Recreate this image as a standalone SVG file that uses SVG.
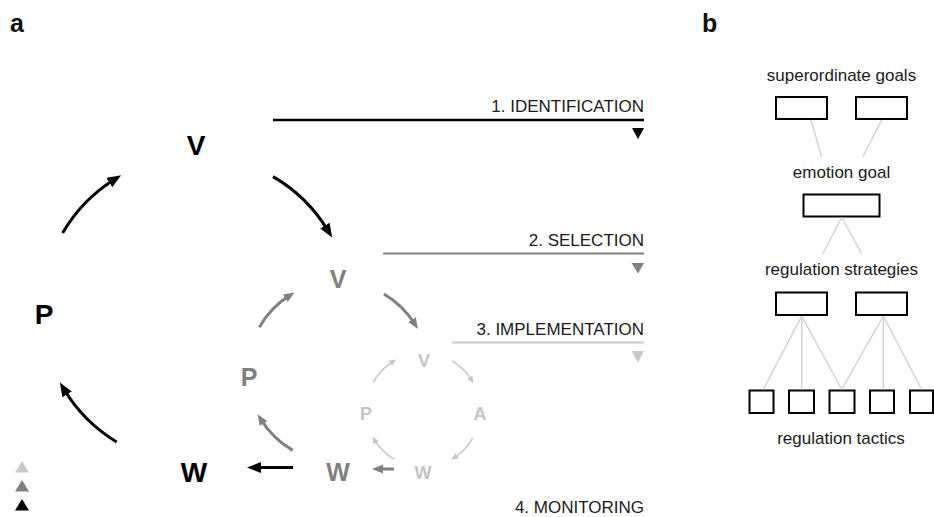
<svg xmlns="http://www.w3.org/2000/svg" width="934" height="517" viewBox="0 0 934 517">
  <style>
    .panel { font-family: "Liberation Sans", Arial, sans-serif; font-weight: bold; font-size: 25px; fill: #111; }
    .node { font-family: "Liberation Sans", Arial, sans-serif; font-weight: bold; text-anchor: middle; }
    .n1 { font-size: 28px; fill: #000; }
    .n2 { font-size: 25px; fill: #808080; }
    .n3 { font-size: 18px; fill: #c4c4c4; }
    .lbl { font-family: "Liberation Sans", Arial, sans-serif; font-size: 17px; fill: #1a1a1a; }
    .end { text-anchor: end; }
    .mid { text-anchor: middle; }
    .a1 { fill: none; stroke: #000; stroke-width: 3; marker-end: url(#head1); }
    .a2 { fill: none; stroke: #808080; stroke-width: 3; marker-end: url(#head2); }
    .a3 { fill: none; stroke: #c4c4c4; stroke-width: 1.5; marker-end: url(#head3); }
    .box { fill: #fff; stroke: #000; stroke-width: 2; }
    .tree { stroke: #d2d2d2; stroke-width: 1.5; fill: none; }
  </style>
  <defs>
    <marker id="head1" markerUnits="userSpaceOnUse" markerWidth="14" markerHeight="12" refX="6" refY="5.5" orient="auto">
      <path d="M0,0 L14,5.5 L0,11 z" fill="#000"/>
    </marker>
    <marker id="head2" markerUnits="userSpaceOnUse" markerWidth="11" markerHeight="10" refX="5" refY="4.5" orient="auto">
      <path d="M0,0 L11,4.5 L0,9 z" fill="#808080"/>
    </marker>
    <marker id="head3" markerUnits="userSpaceOnUse" markerWidth="8" markerHeight="7" refX="3" refY="3" orient="auto">
      <path d="M0,0 L7,3 L0,6 z" fill="#c4c4c4"/>
    </marker>
  </defs>
  <rect width="934" height="517" fill="#fff"/>

  <!-- panel letters -->
  <text class="panel" x="10" y="32">a</text>
  <text class="panel" x="702" y="32">b</text>

  <!-- stage rules with labels and markers -->
  <g id="stage-identification">
    <line x1="273" y1="120" x2="644" y2="120" stroke="#000" stroke-width="2.5"/>
    <text class="lbl end" x="644" y="112">1. IDENTIFICATION</text>
    <polygon points="632,128 644,128 638,139" fill="#000"/>
  </g>
  <g id="stage-selection">
    <line x1="383" y1="253.5" x2="644" y2="253.5" stroke="#808080" stroke-width="2"/>
    <text class="lbl end" x="644" y="246">2. SELECTION</text>
    <polygon points="631.5,263 644,263 638,273.5" fill="#808080"/>
  </g>
  <g id="stage-implementation">
    <line x1="452" y1="342.5" x2="644" y2="342.5" stroke="#c8c8c8" stroke-width="2"/>
    <text class="lbl end" x="644" y="335">3. IMPLEMENTATION</text>
    <polygon points="631.5,351 644,351 638,362.5" fill="#c8c8c8"/>
  </g>
  <g id="stage-monitoring">
    <text class="lbl end" x="644" y="513">4. MONITORING</text>
    <polygon points="15,472.5 29,472.5 22,461" fill="#c8c8c8"/>
    <polygon points="15,491.5 29,491.5 22,480" fill="#808080"/>
    <polygon points="15,510.5 29,510.5 22,499" fill="#000"/>
  </g>

  <!-- outer cycle nodes -->
  <g id="outer-V"><text class="node n1" x="196" y="155">V</text></g>
  <g id="outer-P"><text class="node n1" x="44" y="324">P</text></g>
  <g id="outer-W"><text class="node n1" x="194" y="482">W</text></g>

  <!-- middle cycle nodes -->
  <g id="middle-V"><text class="node n2" x="338" y="288">V</text></g>
  <g id="middle-P"><text class="node n2" x="249" y="386">P</text></g>
  <g id="middle-W"><text class="node n2" x="338" y="481">W</text></g>

  <!-- inner cycle nodes -->
  <g id="inner-V"><text class="node n3" x="424" y="367">V</text></g>
  <g id="inner-P"><text class="node n3" x="366" y="420">P</text></g>
  <g id="inner-A"><text class="node n3" x="480" y="420">A</text></g>
  <g id="inner-W"><text class="node n3" x="423" y="479">W</text></g>

  <!-- panel b hierarchy nodes -->
  <g id="superordinate-goals">
    <text class="lbl mid" x="841.5" y="81">superordinate goals</text>
    <rect class="box" x="776" y="97" width="51" height="22"/>
    <rect class="box" x="856" y="97" width="51" height="22"/>
  </g>
  <g id="emotion-goal">
    <text class="lbl mid" x="841.5" y="177.5">emotion goal</text>
    <rect class="box" x="803.5" y="194.5" width="76" height="22"/>
  </g>
  <g id="regulation-strategies">
    <text class="lbl mid" x="841.5" y="274.5">regulation strategies</text>
    <rect class="box" x="776" y="292.5" width="51" height="22.5"/>
    <rect class="box" x="856" y="292.5" width="51" height="22.5"/>
  </g>
  <g id="regulation-tactics">
    <rect class="box" x="749.5" y="390.5" width="24" height="22.5"/>
    <rect class="box" x="789" y="390.5" width="25" height="22.5"/>
    <rect class="box" x="829.5" y="390.5" width="25" height="22.5"/>
    <rect class="box" x="870" y="390.5" width="24" height="22.5"/>
    <rect class="box" x="910" y="390.5" width="23" height="22.5"/>
    <text class="lbl mid" x="841" y="443.5">regulation tactics</text>
  </g>

  <!-- connectors -->
  <g id="connectors">
    <!-- outer cycle -->
    <path class="a1" d="M62.6,233 A154,154 0 0 1 114.4,179.4"/>
    <path class="a1" d="M273,176.6 A154,154 0 0 1 328,230.7"/>
    <path class="a1" d="M116.7,442 A154,154 0 0 1 64,389.3"/>
    <path class="a1" d="M293,467.5 L255,467.5"/>
    <!-- middle cycle -->
    <path class="a2" d="M259.4,327.2 A90.5,90.5 0 0 1 289.5,295.6"/>
    <path class="a2" d="M383.9,294 A90.5,90.5 0 0 1 414.7,323.9"/>
    <path class="a2" d="M292.8,450.4 A90.5,90.5 0 0 1 260.8,419.3"/>
    <path class="a2" d="M394,469 L378,469"/>
    <!-- inner cycle -->
    <path class="a3" d="M373.2,382.2 A57,57 0 0 1 392.9,361.6"/>
    <path class="a3" d="M452,360.9 A57,57 0 0 1 471.4,379.9"/>
    <path class="a3" d="M472.8,437.8 A57,57 0 0 1 454.6,457.4"/>
    <path class="a3" d="M394.2,459.2 A57,57 0 0 1 374.6,440.1"/>
    <!-- hierarchy links -->
    <line class="tree" x1="811" y1="120" x2="821.7" y2="157"/>
    <line class="tree" x1="881.7" y1="120" x2="862.7" y2="157"/>
    <line class="tree" x1="841.7" y1="217.5" x2="822.7" y2="254"/>
    <line class="tree" x1="841.7" y1="217.5" x2="861.7" y2="254"/>
    <line class="tree" x1="801.7" y1="316" x2="763.3" y2="389.5"/>
    <line class="tree" x1="801.7" y1="316" x2="801.7" y2="389.5"/>
    <line class="tree" x1="801.7" y1="316" x2="841.7" y2="389.5"/>
    <line class="tree" x1="883.3" y1="316" x2="841.7" y2="389.5"/>
    <line class="tree" x1="883.3" y1="316" x2="883.3" y2="389.5"/>
    <line class="tree" x1="883.3" y1="316" x2="921.7" y2="389.5"/>
  </g>
</svg>
